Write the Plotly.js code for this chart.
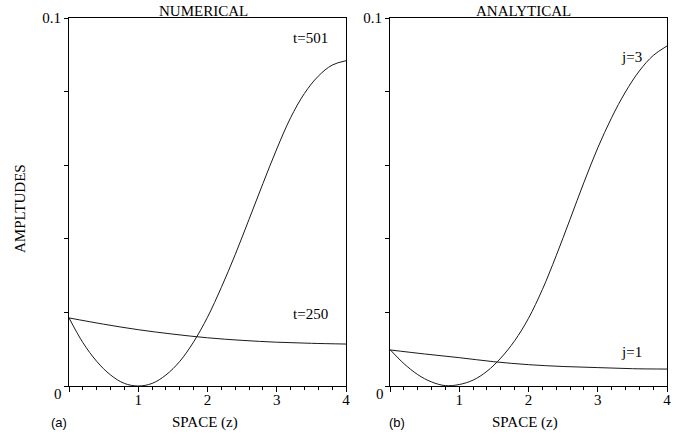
<!DOCTYPE html>
<html>
<head>
<meta charset="utf-8">
<script src="https://cdn.plot.ly/plotly-3.0.1.min.js"></script>
<style>html,body{margin:0;padding:0;background:#fff;}#chart{width:691px;height:438px;}</style>
</head>
<body>
<div id="chart"></div>
<script>
// Panel (a) NUMERICAL
const xFine = [0,0.2,0.4,0.6,0.8,1.0,1.2,1.4,1.6,1.8,2.0,2.2,2.4,2.6,2.8,3.0,3.2,3.4,3.6,3.8,4.0];
const t501 = [0.0185,0.0118,0.0067,0.0030,0.0007,0.0000,0.0007,0.0030,0.0067,0.0120,0.0187,0.0268,0.0357,0.0453,0.0550,0.0644,0.0729,0.0795,0.0842,0.0872,0.0884];
const xCoarse = [0,0.5,1.0,1.5,2.0,2.5,3.0,3.5,4.0];
const t250 = [0.0185,0.0168,0.0153,0.0141,0.0131,0.0124,0.0119,0.0116,0.0114];
// Panel (b) ANALYTICAL
const j3 = [0.0099,0.0061,0.0031,0.0011,0.0001,0.0004,0.0016,0.0040,0.0076,0.0123,0.0184,0.0262,0.0354,0.0453,0.0553,0.0647,0.0729,0.0799,0.0856,0.0898,0.0924];
const j1 = [0.0098,0.0087,0.0077,0.0066,0.0058,0.0053,0.0050,0.0047,0.0046];
// Tick labels
const xTickVals = [0,1,2,3,4];
const xTickText = ['','1','2','3','4'];
const yTickVals = [0,0.02,0.04,0.06,0.08,0.1];
const yTickText = ['','','','','','0.1'];

const serif = 'Liberation Serif, Times New Roman, serif';
const sans = 'Liberation Sans, Arial, sans-serif';
const W = 691, H = 438;
const px = v => v / W;
const py = v => 1 - v / H;

const lineStyle = {color:'#1a1a1a', width:1, shape:'spline', smoothing:1};
const traces = [
  {x:xFine, y:t501, xaxis:'x', yaxis:'y', mode:'lines', line:lineStyle, hoverinfo:'skip'},
  {x:xCoarse, y:t250, xaxis:'x', yaxis:'y', mode:'lines', line:lineStyle, hoverinfo:'skip'},
  {x:xFine, y:j3, xaxis:'x2', yaxis:'y2', mode:'lines', line:lineStyle, hoverinfo:'skip'},
  {x:xCoarse, y:j1, xaxis:'x2', yaxis:'y2', mode:'lines', line:lineStyle, hoverinfo:'skip'}
];

function xAx(domain, anchor){
  return {domain:domain, anchor:anchor, range:[0,4], showgrid:false, zeroline:false,
    showline:true, linecolor:'black', linewidth:1, mirror:true,
    tickmode:'array', tickvals:xTickVals, ticktext:xTickText,
    ticks:'outside', ticklen:5, tickcolor:'black', tickwidth:1, ticklabelstandoff:-5,
    tickfont:{family:serif, size:15, color:'black'},
    minor:{dtick:0.2, ticks:'outside', ticklen:3, tickcolor:'black', tickwidth:1, showgrid:false}};
}
function yAx(anchor){
  return {domain:[py(386), py(18)], anchor:anchor, range:[0,0.1], showgrid:false, zeroline:false,
    showline:true, linecolor:'black', linewidth:1, mirror:true,
    tickmode:'array', tickvals:yTickVals, ticktext:yTickText,
    ticks:'outside', ticklen:4, tickcolor:'black', tickwidth:1,
    tickfont:{family:serif, size:15, color:'black'}};
}

function ann(text, x, y, font, extra){
  return Object.assign({text:text, xref:'paper', yref:'paper', x:px(x), y:py(y),
    xanchor:'center', yanchor:'middle', showarrow:false, font:font}, extra||{});
}
const fS = {family:serif, size:15, color:'black'};
const fA = {family:sans, size:13, color:'black'};

const layout = {
  width:W, height:H, margin:{l:0,r:0,t:0,b:0},
  paper_bgcolor:'white', plot_bgcolor:'white', showlegend:false,
  xaxis: xAx([px(69), px(346)], 'y'),
  yaxis: yAx('x'),
  xaxis2: xAx([px(390), px(667)], 'y2'),
  yaxis2: yAx('x2'),
  annotations:[
    ann('NUMERICAL', 203, 11, fS),
    ann('ANALYTICAL', 523, 11, fS),
    ann('t=501', 310, 38, fS),
    ann('t=250', 310, 314, fS),
    ann('j=3', 631, 57, fS),
    ann('j=1', 631, 352, fS),
    ann('SPACE (z)', 205, 422, fS),
    ann('SPACE (z)', 525, 422, fS),
    ann('(a)', 59, 422, fA),
    ann('(b)', 397, 422, fA),
    ann('0', 58, 394, fS),
    ann('0', 380, 394, fS),
    ann('AMPLTUDES', 20, 209, fS, {textangle:-90})
  ]
};

Plotly.newPlot('chart', traces, layout, {staticPlot:true, displayModeBar:false});
</script>
</body>
</html>
